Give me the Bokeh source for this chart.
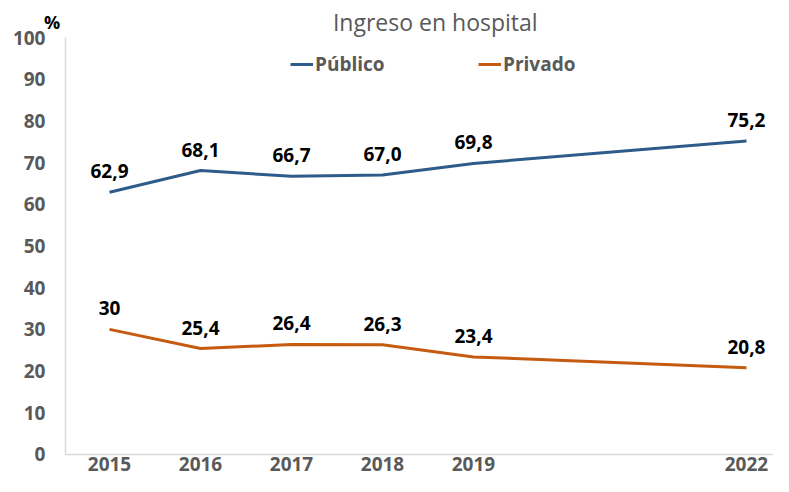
from bokeh.plotting import figure
from bokeh.models import (ColumnDataSource, FixedTicker, Range1d, Label, Legend, LegendItem)
from bokeh.core.properties import value
from bokeh.embed import file_html
from bokeh.resources import INLINE

# ---- data ----
years = [2015, 2016, 2017, 2018, 2019, 2022]
publico = [62.9, 68.1, 66.7, 67.0, 69.8, 75.2]
privado = [30.0, 25.4, 26.4, 26.3, 23.4, 20.8]
publico_labels = ["62,9", "68,1", "66,7", "67,0", "69,8", "75,2"]
privado_labels = ["30", "25,4", "26,4", "26,3", "23,4", "20,8"]
y_ticks = [0, 10, 20, 30, 40, 50, 60, 70, 80, 90, 100]
title_text = "Ingreso en hospital"
unit_text = "%"
series_names = ["Público", "Privado"]

FONT = "Open Sans"
GRAY = "#595959"
BLUE = "#2E5C8A"
ORANGE = "#C55A11"

# layout (not data): plot frame fills the canvas; axes pinned inside it
X0, X1 = 2013.802, 2022.297
Y0, Y1 = -5.276, 108.873
AXIS_X = 2014.516

p = figure(width=773, height=476, output_backend="svg", toolbar_location=None,
           x_range=Range1d(X0, X1), y_range=Range1d(Y0, Y1),
           min_border_left=0, min_border_right=0, min_border_top=0, min_border_bottom=0)
p.outline_line_color = None
p.xgrid.grid_line_color = None
p.ygrid.grid_line_color = None
p.background_fill_color = "white"
p.border_fill_color = "white"

for ax in (p.xaxis[0], p.yaxis[0]):
    ax.axis_line_color = "#D9D9D9"
    ax.axis_line_width = 1.5
    ax.major_tick_line_color = None
    ax.minor_tick_line_color = None
    ax.major_tick_out = 0
    ax.major_tick_in = 0
    ax.major_label_text_font = FONT
    ax.major_label_text_font_style = "bold"
    ax.major_label_text_font_size = "19px"
    ax.major_label_text_color = GRAY

p.xaxis.ticker = FixedTicker(ticks=years)
p.xaxis.fixed_location = 0
p.xaxis.bounds = (AXIS_X, X1)
p.xaxis.major_label_standoff = 3
p.yaxis.ticker = FixedTicker(ticks=y_ticks)
p.yaxis.fixed_location = AXIS_X
p.yaxis.bounds = (0, 100)
p.yaxis.major_label_standoff = 20

src_pub = ColumnDataSource(dict(x=years, y=publico, t=publico_labels))
src_pri = ColumnDataSource(dict(x=years, y=privado, t=privado_labels))

r_pub = p.line("x", "y", source=src_pub, line_color=BLUE, line_width=3)
r_pri = p.line("x", "y", source=src_pri, line_color=ORANGE, line_width=3)

for src in (src_pub, src_pri):
    p.text("x", "y", text="t", source=src, text_font=value(FONT), text_font_style="bold",
           text_font_size="19px", text_color="black", text_align="center",
           text_baseline="alphabetic", y_offset=-21)

# title and unit
p.add_layout(Label(x=2018.58, y=103.64, text=title_text, text_font=FONT, text_font_size="23px",
                   text_color=GRAY, text_align="center", text_baseline="alphabetic"))
p.add_layout(Label(x=2014.37, y=103.64, text=unit_text, text_font=FONT, text_font_size="18px",
                   text_font_style="bold", text_color="black", text_align="center",
                   text_baseline="alphabetic"))

# legends
for name, rend, loc in ((series_names[0], r_pub, (290, 399)), (series_names[1], r_pri, (478, 399))):
    lg = Legend(items=[LegendItem(label=name, renderers=[rend])], location=loc,
                orientation="horizontal", padding=0, margin=0, spacing=0,
                glyph_width=23, glyph_height=20, label_standoff=2,
                label_text_font=FONT, label_text_font_style="bold", label_text_font_size="19px",
                label_text_color=GRAY, border_line_alpha=0, background_fill_alpha=0)
    p.add_layout(lg)

open("out.html", "w").write(file_html(p, INLINE))
